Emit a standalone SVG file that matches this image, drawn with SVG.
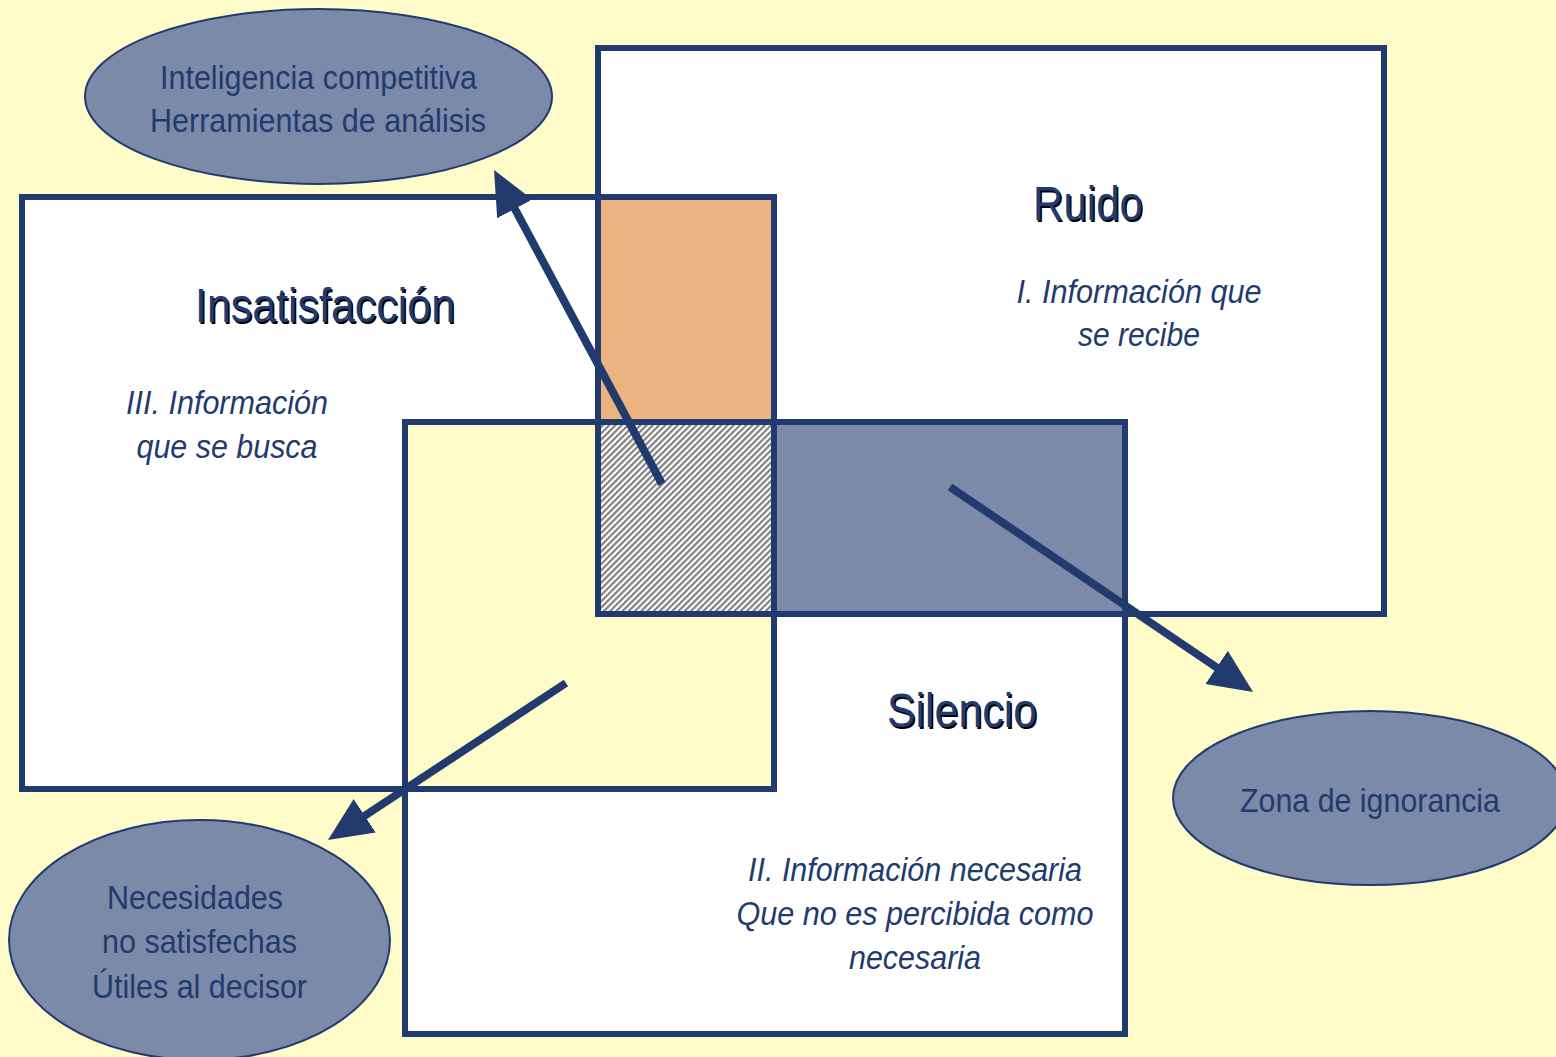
<svg xmlns="http://www.w3.org/2000/svg" width="1556" height="1057" viewBox="0 0 1556 1057">
<style>
.box{fill:none;stroke:#213B6F;stroke-width:6}
.ell{fill:#7A8AA8;stroke:#213B6F;stroke-width:2}
.lbl{font-family:"Liberation Sans",Arial,sans-serif;font-size:33px;fill:#213B6F;text-anchor:middle}
.it{font-style:italic}
.ttl{font-family:"Liberation Sans",Arial,sans-serif;font-size:48px;fill:#213B6F;text-anchor:middle}
.shd{fill:#000}
.arr{stroke:#213B6F;stroke-width:8;fill:none;marker-end:url(#head)}
</style>
<defs>
<pattern id="hatch" width="4.4" height="4.4" patternUnits="userSpaceOnUse" patternTransform="rotate(45)">
<rect width="4.4" height="4.4" fill="#fff"/>
<rect width="2.2" height="4.4" fill="#808080"/>
</pattern>
<marker id="head" markerUnits="userSpaceOnUse" markerWidth="48" markerHeight="44" refX="14" refY="20" orient="auto" viewBox="0 0 48 44">
<path d="M0,0 L44,20 L0,40 z" fill="#213B6F"/>
</marker>
</defs>
<rect width="1556" height="1057" fill="#FFFCC9"/>

<g id="fills">
<rect x="598" y="48" width="786" height="566" fill="#fff"/>
<rect x="22" y="197" width="752" height="592" fill="#fff"/>
<rect x="405" y="422" width="720" height="612" fill="#fff"/>
<rect x="598" y="197" width="176" height="225" fill="#EBB380"/>
<rect x="598" y="422" width="176" height="192" fill="url(#hatch)"/>
<rect x="774" y="422" width="351" height="192" fill="#7A8AA8"/>
<polygon points="405,422 598,422 598,614 774,614 774,789 405,789" fill="#FFFCC9"/>
</g>

<g id="node-ruido">
<rect class="box" x="598" y="48" width="786" height="566"/>
<text class="ttl shd" x="1089.5" y="221.5" textLength="110" lengthAdjust="spacingAndGlyphs">Ruido</text>
<text class="ttl" x="1088" y="220" textLength="110" lengthAdjust="spacingAndGlyphs">Ruido</text>
<text class="lbl it" x="1139" y="303" textLength="245" lengthAdjust="spacingAndGlyphs">I. Información que</text>
<text class="lbl it" x="1139" y="346" textLength="122" lengthAdjust="spacingAndGlyphs">se recibe</text>
</g>

<g id="node-insatisfaccion">
<rect class="box" x="22" y="197" width="752" height="592"/>
<text class="ttl shd" x="326.5" y="323.5" textLength="260" lengthAdjust="spacingAndGlyphs">Insatisfacción</text>
<text class="ttl" x="325" y="322" textLength="260" lengthAdjust="spacingAndGlyphs">Insatisfacción</text>
<text class="lbl it" x="227" y="414" textLength="202" lengthAdjust="spacingAndGlyphs">III. Información</text>
<text class="lbl it" x="227" y="458" textLength="181" lengthAdjust="spacingAndGlyphs">que se busca</text>
</g>

<g id="node-silencio">
<rect class="box" x="405" y="422" width="720" height="612"/>
<text class="ttl shd" x="963.5" y="728.5" textLength="150" lengthAdjust="spacingAndGlyphs">Silencio</text>
<text class="ttl" x="962" y="727" textLength="150" lengthAdjust="spacingAndGlyphs">Silencio</text>
<text class="lbl it" x="915" y="881" textLength="334" lengthAdjust="spacingAndGlyphs">II. Información necesaria</text>
<text class="lbl it" x="915" y="925" textLength="357" lengthAdjust="spacingAndGlyphs">Que no es percibida como</text>
<text class="lbl it" x="915" y="969" textLength="132" lengthAdjust="spacingAndGlyphs">necesaria</text>
</g>

<g id="node-inteligencia">
<ellipse class="ell" cx="318.5" cy="96.5" rx="233.5" ry="87.5"/>
<text class="lbl" x="318.5" y="89" textLength="317" lengthAdjust="spacingAndGlyphs">Inteligencia competitiva</text>
<text class="lbl" x="318" y="132" textLength="336" lengthAdjust="spacingAndGlyphs">Herramientas de análisis</text>
</g>

<g id="node-zona">
<ellipse class="ell" cx="1370" cy="798" rx="197" ry="87"/>
<text class="lbl" x="1370" y="812" textLength="260" lengthAdjust="spacingAndGlyphs">Zona de ignorancia</text>
</g>

<g id="node-necesidades">
<ellipse class="ell" cx="199.5" cy="940" rx="190.5" ry="120"/>
<text class="lbl" x="195" y="909" textLength="176" lengthAdjust="spacingAndGlyphs">Necesidades</text>
<text class="lbl" x="199.5" y="953" textLength="195" lengthAdjust="spacingAndGlyphs">no satisfechas</text>
<text class="lbl" x="199.5" y="998" textLength="215" lengthAdjust="spacingAndGlyphs">Útiles al decisor</text>
</g>

<g id="connectors">
<line class="arr" x1="662" y1="484" x2="508.2" y2="196.5"/>
<line class="arr" x1="950" y1="487" x2="1228.2" y2="675.2"/>
<line class="arr" x1="566" y1="683" x2="353" y2="823.5"/>
</g>
</svg>
